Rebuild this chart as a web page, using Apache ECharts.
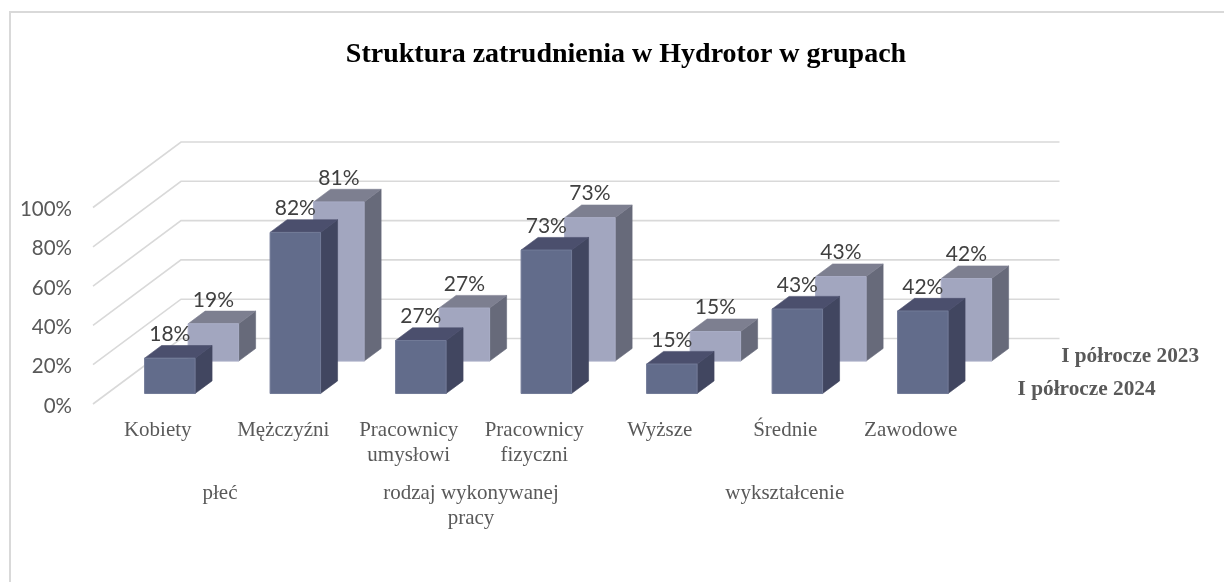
<!DOCTYPE html>
<html>
<head>
<meta charset="utf-8">
<style>html,body{margin:0;padding:0;background:#fff}#c{width:1224px;height:582px}</style>
<script src="https://cdn.jsdelivr.net/npm/echarts@6/dist/echarts.min.js"></script>
</head>
<body>
<div id="c"></div>
<script>
var titleText = 'Struktura zatrudnienia w Hydrotor w grupach';
var categories = ['Kobiety','Mężczyźni','Pracownicy\numysłowi','Pracownicy\nfizyczni','Wyższe','Średnie','Zawodowe'];
var groupNames = ['płeć','rodzaj wykonywanej\npracy','wykształcenie'];
var groupSpans = [2,2,3];
var seriesNames = ['I półrocze 2023','I półrocze 2024'];
var values2023 = [19,81,27,73,15,43,42];
var values2024 = [18,82,27,73,15,43,42];
var valueTicks = [0,20,40,60,80,100];

// projection of the oblique box: depth 0..1 maps to these pixel offsets
var DEPTH_X = 88, DEPTH_Y = -65.5;
var BAR_W = 50.5, BAR_D = 0.193;
var SERIF = '"Liberation Serif","Times New Roman",serif';
var SANS = 'Lato,"Open Sans",sans-serif';

var chart = echarts.init(document.getElementById('c'), null, {renderer:'canvas'});

function wallItem(params, api){
  var kids = [];
  var x0 = api.coord([0,0])[0] - api.size([1,0])[0]/2;
  var x1 = x0 + api.size([1,0])[0]*categories.length;
  valueTicks.forEach(function(t){
    var y = api.coord([0,t])[1];
    var style = {stroke:'#d9d9d9', lineWidth:1.6, fill:null};
    kids.push({type:'polyline', shape:{points:[[x0,y],[x0+DEPTH_X,y+DEPTH_Y],[x1+DEPTH_X,y+DEPTH_Y]]}, style:style});
  });
  return {type:'group', children:kids};
}

function barRenderer(depth, colors){
  return function(params, api){
    var i = api.value(0), v = api.value(1);
    var base = api.coord([i,0]), top = api.coord([i,v]);
    var ox = depth*DEPTH_X, oy = depth*DEPTH_Y;
    var l = base[0]-BAR_W/2+ox, r = l+BAR_W, b = base[1]+oy, t = top[1]+oy;
    var dx = BAR_D*DEPTH_X, dy = BAR_D*DEPTH_Y;
    var line = function(c){return {fill:c, stroke:c, lineWidth:0.6};};
    return {type:'group', children:[
      {type:'polygon', shape:{points:[[r,b],[r+dx,b+dy],[r+dx,t+dy],[r,t]]}, style:line(colors.side)},
      {type:'polygon', shape:{points:[[l,t],[r,t],[r+dx,t+dy],[l+dx,t+dy]]}, style:line(colors.top)},
      {type:'polygon', shape:{points:[[l,b],[r,b],[r,t],[l,t]]}, style:{fill:colors.face, stroke:colors.edge, lineWidth:1}},
      {type:'text', z2:50, style:{x:(l+r)/2, y:t-24, text:Math.round(v)+'%', align:'center', verticalAlign:'middle', fill:'#404040', font:'21px '+SANS}}
    ]};
  };
}

function labelItem(params, api){
  var band = api.size([1,0])[0];
  var x0 = api.coord([0,0])[0]-band/2, y0 = api.coord([0,0])[1];
  var kids = [], acc = 0;
  groupNames.forEach(function(n,k){
    kids.push({type:'text', style:{x:x0+(acc+groupSpans[k]/2)*band+1.5, y:y0+77, text:n, align:'center', verticalAlign:'top', fill:'#595959', font:'21px '+SERIF, lineHeight:25}});
    acc += groupSpans[k];
  });
  // depth-axis labels: one per series, past the last category
  var xEnd = x0+band*categories.length;
  [[depth2023+BAR_D/2,seriesNames[0]],[depth2024+BAR_D/2,seriesNames[1]]].forEach(function(d){
    kids.push({type:'text', style:{x:xEnd+d[0]*DEPTH_X+23.5, y:y0+d[0]*DEPTH_Y+2, text:d[1], align:'left', verticalAlign:'middle', fill:'#595959', font:'bold 21.3px '+SERIF}});
  });
  return {type:'group', children:kids};
}

var depth2023 = 0.655, depth2024 = 0.16;
var colors2023 = {face:'#a2a6bf', top:'#7d7f90', side:'#676a7a', edge:'#a9adc6'};
var colors2024 = {face:'#626c8b', top:'#4b4f6d', side:'#414660', edge:'#727b98'};

chart.setOption({
  animation:false,
  backgroundColor:'#ffffff',
  title:{text:titleText, left:621, top:36, textAlign:'center', textStyle:{fontFamily:SERIF, fontWeight:'bold', fontSize:28, color:'#000000'}},
  graphic:[
    {type:'line', silent:true, shape:{x1:9.5,y1:12,x2:1224,y2:12}, style:{stroke:'#d9d9d9', lineWidth:2}},
    {type:'line', silent:true, shape:{x1:10,y1:11,x2:10,y2:582}, style:{stroke:'#d9d9d9', lineWidth:2}}
  ],
  grid:{left:93, top:207.5, width:878.5, height:196.5, containLabel:false},
  xAxis:{type:'category', data:categories, axisLine:{show:false}, axisTick:{show:false}, splitLine:{show:false},
    axisLabel:{interval:0, margin:14, padding:[0,0,0,4], color:'#595959', fontFamily:SERIF, fontSize:21, lineHeight:25, verticalAlign:'top'}},
  yAxis:{type:'value', min:0, max:100, interval:20, axisLine:{show:false}, axisTick:{show:false}, splitLine:{show:false},
    axisLabel:{margin:21, color:'#595959', fontFamily:SANS, fontSize:20.5, formatter:'{n|{value}%}',
      rich:{n:{color:'#595959', fontFamily:SANS, fontSize:20.5, padding:[4,0,0,0]}}}},
  series:[
    {type:'custom', name:'walls', silent:true, z:1, coordinateSystem:'cartesian2d', clip:false, renderItem:wallItem, data:[[0,0]], encode:{x:0,y:1}},
    {type:'custom', name:seriesNames[0], z:2, clip:false, renderItem:barRenderer(depth2023,colors2023), data:values2023.map(function(v,i){return [i,v];}), encode:{x:0,y:1}},
    {type:'custom', name:seriesNames[1], z:3, clip:false, renderItem:barRenderer(depth2024,colors2024), data:values2024.map(function(v,i){return [i,v];}), encode:{x:0,y:1}},
    {type:'custom', name:'labels', silent:true, z:4, clip:false, renderItem:labelItem, data:[[0,0]], encode:{x:0,y:1}}
  ]
});
</script>
</body>
</html>
